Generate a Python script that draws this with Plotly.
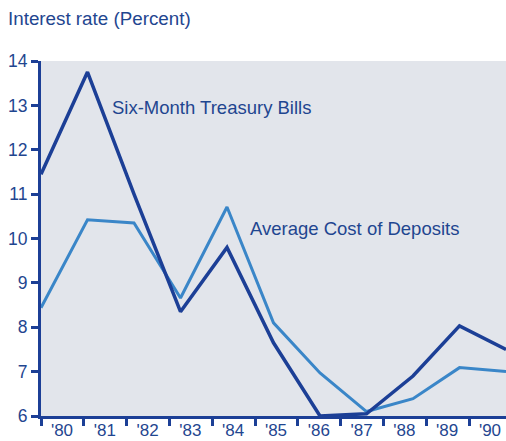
import plotly.graph_objects as go

# Annual rates, percent
years = [1980, 1981, 1982, 1983, 1984, 1985, 1986, 1987, 1988, 1989, 1990]
treasury_bills = [11.45, 13.75, 11.0, 8.35, 9.8, 7.65, 6.0, 6.05, 6.9, 8.03, 7.5]
deposit_cost = [8.44, 10.42, 10.35, 8.66, 10.71, 8.1, 6.97, 6.1, 6.39, 7.09, 7.0]

tick_years = list(range(1980, 1991))
tick_labels = ["'80", "'81", "'82", "'83", "'84", "'85", "'86", "'87", "'88", "'89", "'90"]
y_ticks = [6, 7, 8, 9, 10, 11, 12, 13, 14]

NAVY = "#1c3f96"
MID = "#3a86c8"
TEXT = "#1f4690"
FONT = "Liberation Sans, Arial, sans-serif"

fig = go.Figure()
fig.add_trace(go.Scatter(x=years, y=deposit_cost, mode="lines",
                         line=dict(color=MID, width=3), showlegend=False,
                         cliponaxis=False))
fig.add_trace(go.Scatter(x=years, y=treasury_bills, mode="lines",
                         line=dict(color=NAVY, width=3.5), showlegend=False,
                         cliponaxis=False))
# empty trace that anchors the labelled year axis
fig.add_trace(go.Scatter(x=[tick_years[0]], y=[y_ticks[0]], xaxis="x2", mode="markers",
                         marker=dict(opacity=0), showlegend=False, hoverinfo="skip"))

fig.add_annotation(x=1981.48, y=12.96, xref="x", yref="y", text="Six-Month Treasury Bills",
                   showarrow=False, xanchor="left", yanchor="middle",
                   font=dict(family=FONT, size=18.5, color=TEXT))
fig.add_annotation(x=1984.45, y=10.22, xref="x", yref="y", text="Average Cost of Deposits",
                   showarrow=False, xanchor="left", yanchor="middle",
                   font=dict(family=FONT, size=18.5, color=TEXT))

fig.update_layout(
    width=506, height=441,
    margin=dict(l=41, r=0, t=61, b=25, autoexpand=False),
    paper_bgcolor="white",
    plot_bgcolor="#e2e5eb",
    title=dict(text="Interest rate (Percent)", x=8 / 506, y=1 - 18 / 441,
               xref="container", yref="container", xanchor="left", yanchor="middle",
               font=dict(family=FONT, size=18.8, color=TEXT)),
    xaxis=dict(range=[1980, 1990], visible=False, fixedrange=True, automargin=False),
    xaxis2=dict(overlaying="x", side="bottom", anchor="y", range=[1980, 1980 + 465 / 42.8],
                automargin=False,
                tickmode="array", tickvals=tick_years, ticktext=tick_labels,
                ticklabelshift=21, ticklabelstandoff=-10,
                ticks="outside", ticklen=7, tickwidth=2.5,
                tickcolor=NAVY, showline=True, linewidth=3, linecolor=NAVY,
                showgrid=False, zeroline=False,
                tickfont=dict(family=FONT, size=17, color=TEXT)),
    yaxis=dict(range=[6, 14], tickmode="array", tickvals=y_ticks, automargin=False,
               ticks="outside", ticklen=7, tickwidth=2.5, tickcolor=NAVY,
               showline=True, linewidth=3, linecolor=NAVY,
               showgrid=False, zeroline=False,
               tickfont=dict(family=FONT, size=17.5, color=TEXT)),
)

fig.write_html("out.html")
